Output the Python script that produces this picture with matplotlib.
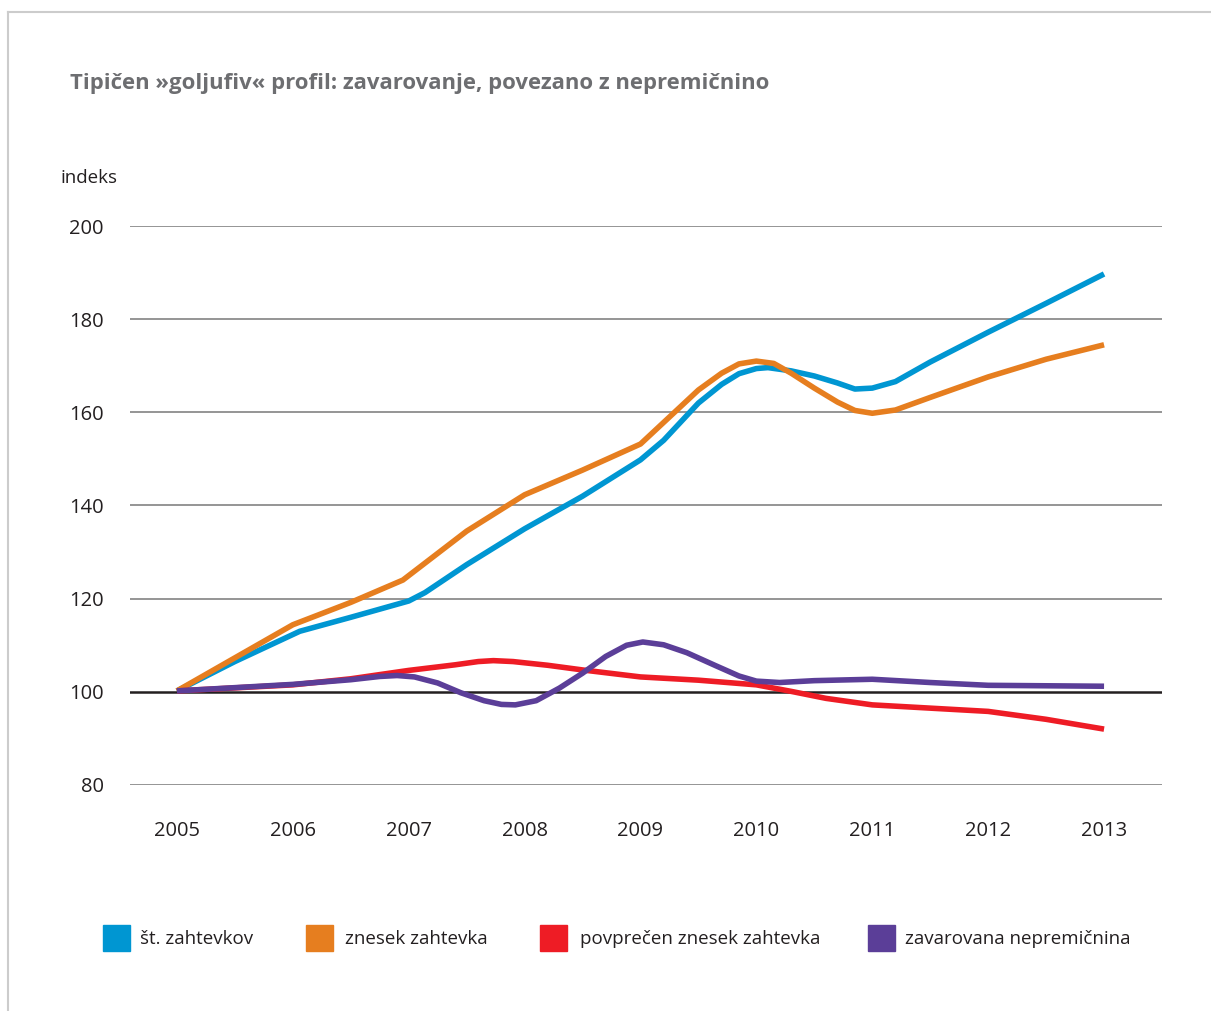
import matplotlib
matplotlib.use("Agg")
import matplotlib.pyplot as plt
from matplotlib.patches import Rectangle
from matplotlib.lines import Line2D

plt.rcParams['font.family'] = ['Open Sans', 'DejaVu Sans']

# values (x in years, y as index)
years = [2005, 2006, 2007, 2008, 2009, 2010, 2011, 2012, 2013]

st_x = [2005, 2005.5, 2006.06, 2006.5, 2007, 2007.14, 2007.5, 2008, 2008.5, 2009, 2009.2,
        2009.5, 2009.7, 2009.85, 2010, 2010.1, 2010.3, 2010.5, 2010.7, 2010.85, 2011,
        2011.2, 2011.5, 2012, 2012.5, 2013]
st_y = [100.2, 106.5, 113.0, 116.0, 119.5, 121.3, 127.3, 135.0, 142.0, 149.8, 154.0,
        162.0, 166.0, 168.3, 169.4, 169.6, 168.9, 167.8, 166.3, 165.0, 165.2,
        166.6, 170.8, 177.2, 183.4, 189.7]

zn_x = [2005, 2005.5, 2006, 2006.5, 2006.95, 2007.5, 2008, 2008.5, 2009, 2009.5, 2009.7,
        2009.85, 2010, 2010.15, 2010.3, 2010.5, 2010.7, 2010.85, 2011, 2011.2, 2011.5,
        2012, 2012.5, 2013]
zn_y = [100.2, 107.3, 114.4, 119.2, 124.0, 134.5, 142.3, 147.6, 153.2, 164.8, 168.4,
        170.4, 171.0, 170.5, 168.4, 165.2, 162.2, 160.4, 159.8, 160.5, 163.2,
        167.6, 171.4, 174.5]

pov_x = [2005, 2006, 2006.5, 2007, 2007.4, 2007.6, 2007.73, 2007.9, 2008.2, 2008.5, 2009,
         2009.5, 2010, 2010.3, 2010.6, 2011, 2011.5, 2012, 2012.5, 2013]
pov_y = [100.2, 101.5, 102.8, 104.6, 105.8, 106.5, 106.7, 106.5, 105.7, 104.7, 103.2,
         102.5, 101.5, 100.1, 98.6, 97.2, 96.5, 95.8, 94.1, 92.0]

zav_x = [2005, 2006, 2006.5, 2006.75, 2006.9, 2007.05, 2007.25, 2007.45, 2007.65, 2007.8,
         2007.92, 2008.1, 2008.3, 2008.5, 2008.7, 2008.88, 2009.02, 2009.2, 2009.4,
         2009.65, 2009.85, 2010, 2010.2, 2010.5, 2011, 2011.5, 2012, 2013]
zav_y = [100.2, 101.6, 102.6, 103.3, 103.5, 103.2, 101.9, 99.8, 98.1, 97.3,
         97.2, 98.1, 100.8, 104.0, 107.6, 110.0, 110.7, 110.1, 108.4,
         105.6, 103.4, 102.3, 102.0, 102.4, 102.7, 102.0, 101.4, 101.2]

series = [
    ("št. zahtevkov", st_x, st_y, "#0096d2"),
    ("znesek zahtevka", zn_x, zn_y, "#e67e1f"),
    ("povprečen znesek zahtevka", pov_x, pov_y, "#ee1c25"),
    ("zavarovana nepremičnina", zav_x, zav_y, "#5b3e98"),
]
yticks = [80, 100, 120, 140, 160, 180, 200]

W, H = 1211, 1011
fig = plt.figure(figsize=(W / 100, H / 100), dpi=100)
ax = fig.add_axes([130 / W, 1 - 785 / H, (1162 - 130) / W, (785 - 226) / H])

for yv in yticks:
    if yv == 100:
        continue
    ax.axhline(yv, color="#8c8c8c", lw=1.3, zorder=1)
ax.axhline(100, color="#231f20", lw=1.8, zorder=2)

for name, xs, ys, col in series:
    ax.plot(xs, ys, color=col, lw=4, solid_capstyle="butt", solid_joinstyle="round", zorder=3)

ax.set_xlim(2004.595, 2013.5)
ax.set_ylim(80, 200)
ax.set_yticks(yticks)
ax.set_xticks(years)
ax.set_xticklabels([str(y) for y in years])
ax.tick_params(length=0, labelsize=14.5, colors="#231f20")
ax.tick_params(axis="y", pad=19)
ax.tick_params(axis="x", pad=26)
for s in ax.spines.values():
    s.set_visible(False)
ax.patch.set_alpha(0)

fig.text(70 / W, 1 - 84 / H, "Tipičen »goljufiv« profil: zavarovanje, povezano z nepremičnino",
         fontsize=15.9, fontweight="bold", color="#6d6e71", va="center", ha="left")
fig.text(60 / W, 1 - 178 / H, "indeks", fontsize=13.5, color="#231f20", va="center", ha="left")

# frame around the figure
fig.add_artist(Line2D([8 / W, 8 / W], [0, 1 - 12 / H], color="#cccccc", lw=1.5))
fig.add_artist(Line2D([8 / W, 1], [1 - 12 / H, 1 - 12 / H], color="#cccccc", lw=1.5))

# legend
leg_box = [103, 306, 540, 868]
leg_txt = [140, 345, 580, 905]
for (name, xs, ys, col), bx, tx in zip(series, leg_box, leg_txt):
    fig.add_artist(Rectangle((bx / W, 1 - 951 / H), 27 / W, 26 / H, color=col,
                             transform=fig.transFigure))
    fig.text(tx / W, 1 - 939 / H, name, fontsize=13.5, color="#231f20", va="center", ha="left")

fig.savefig("out.png", dpi=100)
